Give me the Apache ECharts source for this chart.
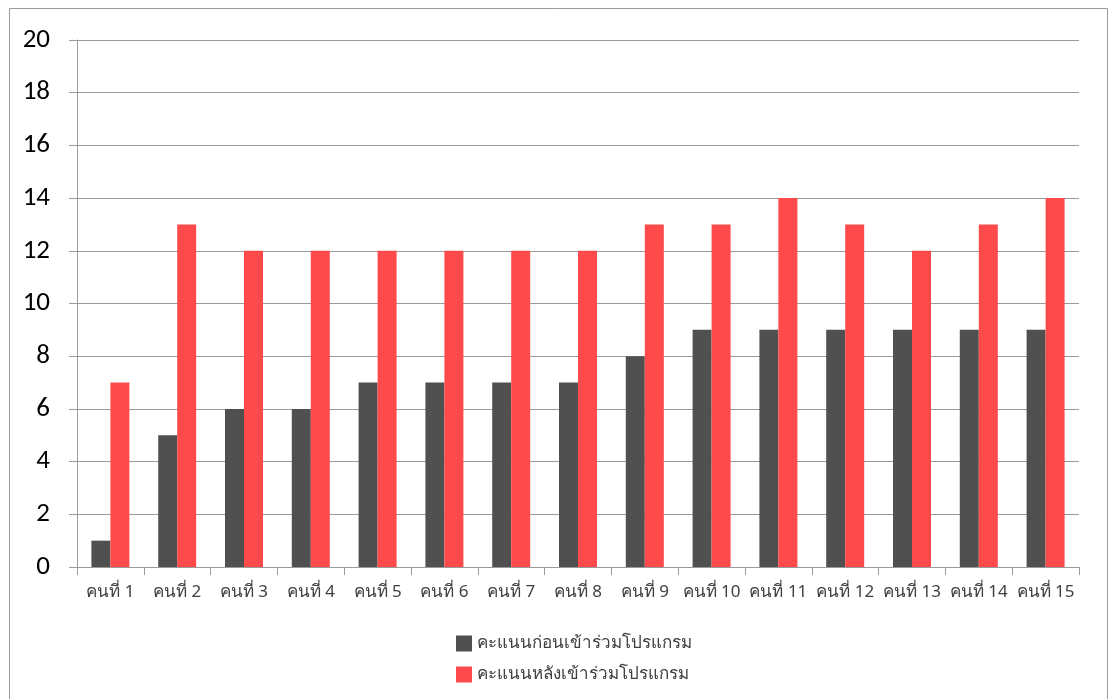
<!DOCTYPE html>
<html>
<head>
    <meta charset="UTF-8">
    <script src="https://cdn.jsdelivr.net/npm/echarts@6/dist/echarts.min.js"></script>
    <title>คะแนนก่อน/หลังเข้าร่วมโปรแกรม</title>
    <style>
        html, body { margin: 0; padding: 0; background: #fff; }
        #box { width: 1113px; height: 699px; }
    </style>
</head>
<body>
    <div id="box"></div>
    <script>
        // ข้อมูล
        var categories = ['คนที่ 1', 'คนที่ 2', 'คนที่ 3', 'คนที่ 4', 'คนที่ 5', 'คนที่ 6', 'คนที่ 7', 'คนที่ 8',
            'คนที่ 9', 'คนที่ 10', 'คนที่ 11', 'คนที่ 12', 'คนที่ 13', 'คนที่ 14', 'คนที่ 15'];
        var before = [1, 5, 6, 6, 7, 7, 7, 7, 8, 9, 9, 9, 9, 9, 9];
        var after = [7, 13, 12, 12, 12, 12, 12, 12, 13, 13, 14, 13, 12, 13, 14];
        var seriesNames = ['คะแนนก่อนเข้าร่วมโปรแกรม', 'คะแนนหลังเข้าร่วมโปรแกรม'];

        var thaiFont = '"Noto Sans", "DejaVu Sans", sans-serif';
        var mychart = echarts.init(document.getElementById('box'));

        var option = {
            animation: false,
            graphic: [{
                type: 'rect',
                shape: { x: 9.5, y: 8.5, width: 1098, height: 700 },
                style: { fill: 'none', stroke: '#9a9a9a', lineWidth: 1 },
                silent: true
            }],
            grid: { left: 77, right: 34, top: 40, bottom: 132, containLabel: false },
            legend: {
                orient: 'vertical',
                left: 451,
                top: 630,
                itemWidth: 16,
                itemHeight: 16,
                itemGap: 14,
                icon: 'rect',
                textStyle: { fontSize: 17, color: '#404040', fontFamily: thaiFont },
                data: seriesNames
            },
            xAxis: {
                type: 'category',
                data: categories,
                axisLine: { lineStyle: { color: '#9a9a9a' } },
                axisTick: { show: true, length: 8, lineStyle: { color: '#9a9a9a' } },
                axisLabel: { fontSize: 17, color: '#404040', margin: 17, interval: 0, fontFamily: thaiFont }
            },
            yAxis: {
                type: 'value',
                min: 0,
                max: 20,
                interval: 2,
                axisLine: { show: true, lineStyle: { color: '#9a9a9a' } },
                axisTick: { show: true, length: 8, lineStyle: { color: '#9a9a9a' } },
                axisLabel: { fontSize: 27, color: '#000', margin: 27, fontFamily: 'Carlito, Lato, sans-serif' },
                splitLine: { lineStyle: { color: '#9a9a9a' } }
            },
            series: [{
                    name: seriesNames[0],
                    type: 'bar',
                    data: before,
                    barWidth: 19,
                    barGap: '0%',
                    itemStyle: { color: '#505050' }
                },
                {
                    name: seriesNames[1],
                    type: 'bar',
                    data: after,
                    barWidth: 19,
                    itemStyle: { color: '#ff4a4c' }
                }
            ]
        };

        mychart.setOption(option);
    </script>
</body>
</html>
